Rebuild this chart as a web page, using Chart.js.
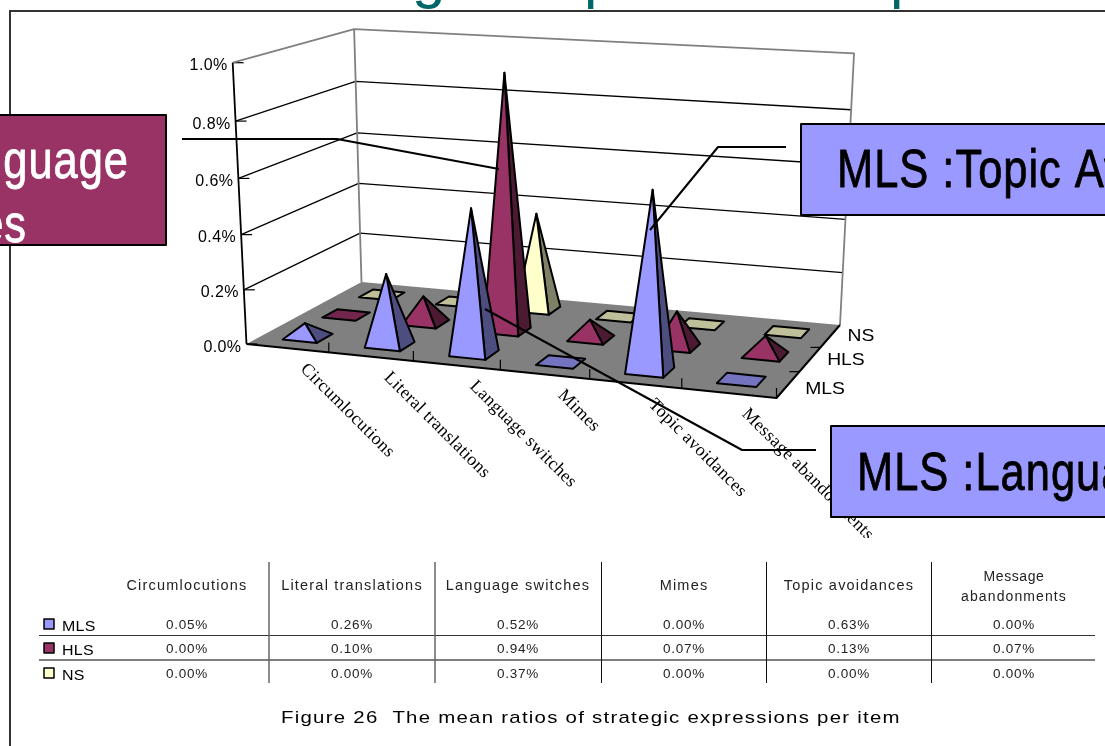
<!DOCTYPE html>
<html>
<head>
<meta charset="utf-8">
<title>Figure 26</title>
<script src="https://cdn.jsdelivr.net/npm/chart.js@4/dist/chart.umd.js"></script>
<style>
  html, body { margin: 0; padding: 0; background: #fff; overflow: hidden; }
  canvas { display: block; }
</style>
</head>
<body>
<canvas id="strategies" width="1105" height="746"></canvas>
<script>
// data (percent)
const categories = ["Circumlocutions", "Literal translations", "Language switches", "Mimes", "Topic avoidances", "Message abandonments"];
const seriesNames = ["MLS", "HLS", "NS"];
const mls = [0.05, 0.26, 0.52, 0.00, 0.63, 0.00];
const hls = [0.00, 0.10, 0.94, 0.07, 0.13, 0.07];
const ns = [0.00, 0.00, 0.37, 0.00, 0.00, 0.00];
const caption = "Figure 26  The mean ratios of strategic expressions per item";

const faceColors = ["#9999ff", "#993366", "#ffffcc"];
const sideColors = ["#4d4d80", "#4d1a33", "#808066"];
const flatColors = ["#7373bf", "#73264d", "#bfbf99"];

// floor corners on the page, and where the verticals converge
const FL = [246.5, 344], FR = [776.5, 398], BR = [840, 325], BL = [361.5, 282];
const vanish = [535, 6222];
const topLeftY = 62.7;

// square -> floor quad
const dx1 = FR[0] - BR[0], dx2 = BL[0] - BR[0], dx3 = FL[0] - FR[0] + BR[0] - BL[0];
const dy1 = FR[1] - BR[1], dy2 = BL[1] - BR[1], dy3 = FL[1] - FR[1] + BR[1] - BL[1];
const det = dx1 * dy2 - dx2 * dy1;
const g = (dx3 * dy2 - dx2 * dy3) / det;
const h = (dx1 * dy3 - dx3 * dy1) / det;
const a = FR[0] - FL[0] + g * FR[0], b = BL[0] - FL[0] + h * BL[0];
const d = FR[1] - FL[1] + g * FR[1], e = BL[1] - FL[1] + h * BL[1];
const k = (FL[1] - topLeftY) / (topLeftY - vanish[1]);

// u along categories, s into the depth, v up the value axis, all 0..1
function project(u, s, v) {
    const w0 = g * u + h * s + 1;
    const X = a * u + b * s + FL[0];
    const Y = d * u + e * s + FL[1];
    const w = w0 + k * v;
    return [(X + v * k * vanish[0]) / w, (Y + v * k * vanish[1]) / w];
}

function poly(ctx, pts, fill, stroke, width) {
    ctx.beginPath();
    pts.forEach((p, i) => i ? ctx.lineTo(p[0], p[1]) : ctx.moveTo(p[0], p[1]));
    if (fill) {
        ctx.closePath();
        ctx.fillStyle = fill;
        ctx.fill();
    }
    if (stroke) {
        ctx.strokeStyle = stroke;
        ctx.lineWidth = width;
        ctx.lineJoin = "round";
        ctx.stroke();
    }
}

// stretch: the source picture was resized, most text is a bit wider than normal
function label(ctx, text, x, y, font, color, align, spacing, stretch, weight) {
    ctx.save();
    ctx.translate(x, y);
    ctx.scale(stretch || 1, 1);
    ctx.font = font;
    ctx.fillStyle = color;
    ctx.textAlign = align || "left";
    ctx.textBaseline = "alphabetic";
    ctx.letterSpacing = (spacing || 0) + "px";
    ctx.fillText(text, 0, 0);
    if (weight) {
        ctx.strokeStyle = color;
        ctx.lineWidth = weight;
        ctx.strokeText(text, 0, 0);
    }
    ctx.restore();
}

// pyramids are drawn by the controller, one per value, through the chart's scales
class Pyramid3D extends Chart.BarController {
    draw() {
        const ctx = this.chart.ctx;
        const xs = this._cachedMeta.xScale;
        const ys = this._cachedMeta.yScale;
        const row = this.index;
        const values = this.getDataset().data;
        const du = 0.29 / 6, ds = 0.3 / 3;
        values.forEach((val, i) => {
            const uc = (xs.getPixelForValue(i) - xs.left) / xs.width;
            const sc = (row + 0.5) / 3;
            const v = (ys.bottom - ys.getPixelForValue(val)) / ys.height;
            const hu = 0.5 / 6 - du, hs = 0.5 / 3 - ds;
            const f1 = project(uc - hu, sc - hs, 0);
            const f2 = project(uc + hu, sc - hs, 0);
            const b2 = project(uc + hu, sc + hs, 0);
            const b1 = project(uc - hu, sc + hs, 0);
            if (val === 0) {
                poly(ctx, [f1, f2, b2, b1], flatColors[row], "#000", 2);
                return;
            }
            const apex = project(uc - 0.005 * (1 - uc), sc, v);
            poly(ctx, [f2, b2, apex], sideColors[row], "#000", 2);
            poly(ctx, [f1, f2, apex], faceColors[row], "#000", 2);
        });
    }
}
Pyramid3D.id = "pyramid3d";
Pyramid3D.defaults = Chart.BarController.defaults;
Chart.register(Pyramid3D);

// walls, floor and axis text under the pyramids
const box3d = {
    id: "box3d",
    beforeDatasetsDraw(chart) {
        const ctx = chart.ctx;
        const ys = chart.scales.y;
        ctx.save();
        // frame of the slide
        ctx.strokeStyle = "#333";
        ctx.lineWidth = 2;
        ctx.beginPath();
        ctx.moveTo(10, 746);
        ctx.lineTo(10, 11);
        ctx.lineTo(1105, 11);
        ctx.stroke();
        // pieces of the cut off heading
        ctx.save();
        ctx.beginPath();
        ctx.rect(0, 0, 1105, 10);
        ctx.clip();
        label(ctx, "g", 412, -3, "60px 'Liberation Sans'", "#006666");
        label(ctx, "p", 584, -3, "60px 'Liberation Sans'", "#006666");
        label(ctx, "p", 890, -3, "60px 'Liberation Sans'", "#006666");
        ctx.restore();

        poly(ctx, [project(0, 0, 0), project(1, 0, 0), project(1, 1, 0), project(0, 1, 0)], "#808080");
        ys.ticks.forEach(t => {
            const v = (ys.bottom - ys.getPixelForValue(t.value)) / ys.height;
            const p = project(0, 0, v);
            if (t.value > 0 && t.value < 1) {
                poly(ctx, [p, project(0, 1, v), project(1, 1, v)], null, "#000", 1.3);
            }
            ctx.beginPath();
            ctx.moveTo(p[0], p[1]);
            ctx.lineTo(p[0] + 11, p[1]);
            ctx.strokeStyle = "#000";
            ctx.lineWidth = 1.2;
            ctx.stroke();
            label(ctx, t.label, p[0] - 5, p[1] + 7.5, "16px 'Liberation Sans'", "#000", "right", 0.4);
        });
        poly(ctx, [project(0, 0, 1), project(0, 1, 1), project(1, 1, 1), project(1, 1, 0)], null, "#808080", 1.8);
        poly(ctx, [project(0, 1, 1), project(0, 1, 0)], null, "#808080", 1.8);
        poly(ctx, [project(0, 0, 0), project(1, 0, 0), project(1, 1, 0)], null, "#000", 2);
        poly(ctx, [project(0, 0, 0), project(0, 0, 1)], null, "#000", 1.8);

        // ticks on the floor edges
        categories.forEach((c, i) => {
            const p = project((i + 1) / categories.length, 0, 0);
            poly(ctx, [p, [p[0], p[1] - 10]], null, "#000", 1.2);
        });
        const nudge = [9, 6, 5];
        seriesNames.forEach((c, i) => {
            const p = project(1, i / seriesNames.length, 0);
            if (i) poly(ctx, [p, [p[0] - 10, p[1]]], null, "#000", 1.2);
            const m = project(1, (i + 0.5) / seriesNames.length, 0);
            label(ctx, c, m[0] + 17, m[1] + nudge[i], "16.5px 'Liberation Sans'", "#000", "left", 0, 1.17);
        });

        // slanted category names, the last one runs out of the chart box
        ctx.save();
        ctx.beginPath();
        ctx.rect(0, 0, 1105, 538);
        ctx.clip();
        categories.forEach((c, i) => {
            const p = project((i + 0.5) / categories.length, 0, 0);
            ctx.save();
            ctx.translate(p[0] + 12.5, p[1] + 21.5);
            ctx.rotate(Math.PI / 4);
            label(ctx, c, 0, 0, "18px 'Liberation Serif'", "#000", "left", 0.35);
            ctx.restore();
        });
        ctx.restore();
        ctx.restore();
    },
    afterDraw(chart) {
        const ctx = chart.ctx;
        ctx.save();
        drawTable(ctx);
        label(ctx, caption, 281, 723, "17px 'Liberation Sans'", "#000", "left", 1.05, 1.2);

        // leaders of the callouts
        poly(ctx, [[182, 139], [337, 139], [499, 169]], null, "#000", 2);
        poly(ctx, [[786, 147], [718, 147], [650, 230]], null, "#000", 2);
        poly(ctx, [[485, 309], [742, 450], [816, 450]], null, "#000", 2);

        callout(ctx, -2, 115, 168, 130, "#993366", "#fff", [["HLS :Language", 129, 178, "right"], ["switches", 27, 242, "right"]]);
        callout(ctx, 801, 124, 320, 91, "#9999ff", "#000", [["MLS :Topic Avoidances", 837, 187, "left"]]);
        callout(ctx, 831, 426, 290, 91, "#9999ff", "#000", [["MLS :Language switches", 857, 490, "left"]]);
        ctx.restore();
    }
};

function callout(ctx, x, y, w, hgt, fill, color, lines) {
    ctx.fillStyle = fill;
    ctx.fillRect(x, y, w, hgt);
    ctx.strokeStyle = "#000";
    ctx.lineWidth = 2;
    ctx.strokeRect(x, y, w, hgt);
    ctx.save();
    ctx.beginPath();
    ctx.rect(x, y, w, hgt);
    ctx.clip();
    // the slide used a narrow face, so squeeze the regular one
    lines.forEach(l => label(ctx, l[0], l[1], l[2], "53px 'Liberation Sans'", color, l[3], 1.2, 0.82, 0.8));
    ctx.restore();
}

function drawTable(ctx) {
    const rows = [mls, hls, ns];
    const cols = [187, 352, 518, 684, 849, 1014];
    const rowY = [629, 653, 678];
    const head = "14.5px 'Liberation Sans'";
    const font = "13.5px 'Liberation Sans'";
    poly(ctx, [[39, 635.5], [1095, 635.5]], null, "#333", 1);
    poly(ctx, [[39, 660], [1095, 660]], null, "#555", 1.5);
    [269, 435].forEach(x => poly(ctx, [[x, 562], [x, 683]], null, "#666", 1.5));
    [601.5, 766.5, 931.5].forEach(x => poly(ctx, [[x, 562], [x, 683]], null, "#111", 1));
    categories.forEach((c, i) => {
        if (c === "Message abandonments") {
            label(ctx, "Message", cols[i], 581, "14px 'Liberation Sans'", "#222", "center", 0.6);
            label(ctx, "abandonments", cols[i], 601, "14px 'Liberation Sans'", "#222", "center", 1.1);
        } else {
            label(ctx, c, cols[i], 590, head, "#222", "center", 1.2);
        }
    });
    rows.forEach((r, j) => {
        const key = [44, rowY[j] - 10, 10, 10];
        ctx.fillStyle = faceColors[j];
        ctx.fillRect(key[0], key[1], key[2], key[3]);
        ctx.strokeStyle = "#000";
        ctx.lineWidth = 1.5;
        ctx.strokeRect(key[0], key[1], key[2], key[3]);
        label(ctx, seriesNames[j], 62, rowY[j] + 2, "14.5px 'Liberation Sans'", "#000", "left", 0.3, 1.1);
        r.forEach((val, i) => {
            label(ctx, val.toFixed(2) + "%", cols[i], rowY[j], font, "#222", "center", 0.7);
        });
    });
}

const context = document.getElementById("strategies").getContext("2d");
new Chart(context, {
    type: "pyramid3d",
    data: {
        labels: categories,
        datasets: [
            { label: seriesNames[0], data: mls },
            { label: seriesNames[1], data: hls },
            { label: seriesNames[2], data: ns }
        ]
    },
    options: {
        responsive: false,
        animation: false,
        layout: { padding: 0 },
        plugins: { legend: { display: false }, tooltip: { enabled: false } },
        scales: {
            x: { type: "category", display: false },
            y: {
                type: "linear",
                display: false,
                min: 0,
                max: 1,
                ticks: { stepSize: 0.2, callback: value => value.toFixed(1) + "%" }
            }
        }
    },
    plugins: [box3d]
});
</script>
</body>
</html>
